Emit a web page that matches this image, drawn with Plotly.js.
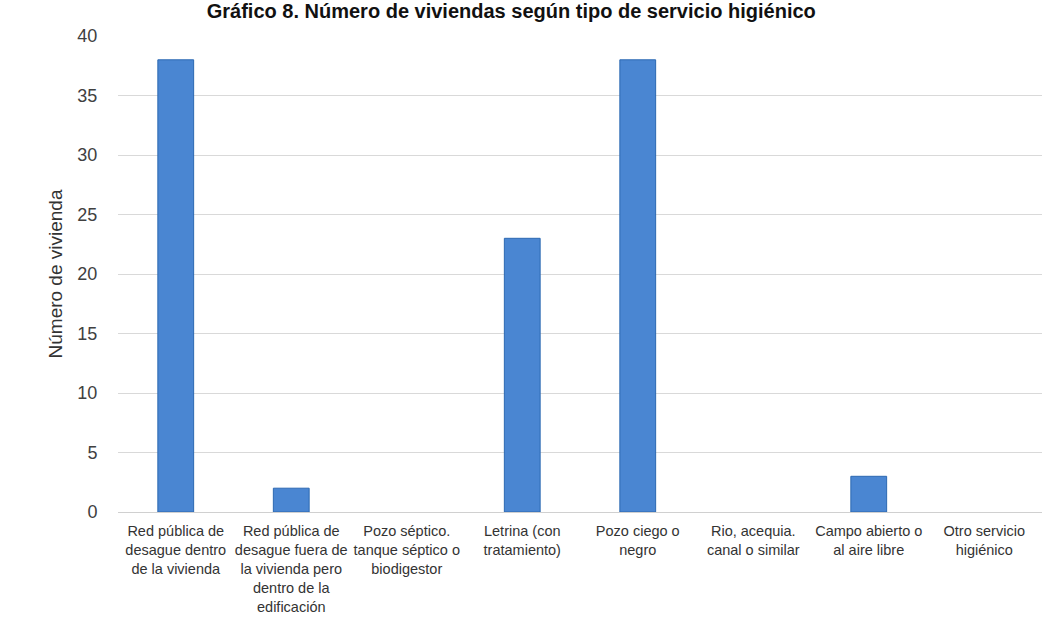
<!DOCTYPE html>
<html>
<head>
<meta charset="utf-8">
<script src="https://cdn.plot.ly/plotly-3.0.1.min.js"></script>
<style>html,body{margin:0;padding:0;background:#fff;}#chart{width:1052px;height:637px;}</style>
</head>
<body>
<div id="chart"></div>
<script>
const categories = [
  "Red pública de<br>desague dentro<br>de la vivienda",
  "Red pública de<br>desague fuera de<br>la vivienda pero<br>dentro de la<br>edificación",
  "Pozo séptico.<br>tanque séptico o<br>biodigestor",
  "Letrina (con<br>tratamiento)",
  "Pozo ciego o<br>negro",
  "Rio, acequia.<br>canal o similar",
  "Campo abierto o<br>al aire libre",
  "Otro servicio<br>higiénico"
];
const viviendas = [38, 2, 0, 23, 38, 0, 3, 0];
const yTicks = [0, 5, 10, 15, 20, 25, 30, 35, 40];
const chartTitle = "Gráfico 8. Número de viviendas según tipo de servicio higiénico";
const yTitle = "Número de vivienda";

const trace = {
  type: 'bar',
  x: categories,
  y: viviendas,
  width: 0.31,
  marker: {
    color: '#4a86d2',
    line: { color: '#2c68b2', width: viviendas.map(v => v > 0 ? 1 : 0) }
  },
  hoverinfo: 'x+y'
};

const layout = {
  width: 1052, height: 637,
  margin: { l: 118, r: 10, t: 36, b: 125 },
  paper_bgcolor: '#ffffff', plot_bgcolor: '#ffffff',
  font: { family: 'Liberation Sans, Arial, sans-serif', color: '#333333' },
  title: {
    text: '<b>' + chartTitle + '</b>',
    font: { size: 20, color: '#111111', family: 'Liberation Sans, Arial, sans-serif' },
    x: 0.486, xref: 'container', xanchor: 'center',
    y: 0.982, yref: 'container', yanchor: 'middle', pad: { t: 0, b: 0 }
  },
  xaxis: {
    type: 'category',
    tickfont: { size: 14.5, color: '#333333' },
    showgrid: false, zeroline: false, showline: false,
    ticks: 'outside', ticklen: 6, tickcolor: 'rgba(0,0,0,0)',
    fixedrange: true
  },
  yaxis: {
    range: [0, 40],
    tickvals: yTicks,
    tickfont: { size: 18, color: '#404040' },
    ticks: 'outside', ticklen: 16, tickcolor: 'rgba(0,0,0,0)',
    showgrid: true, gridcolor: '#d9d9d9', gridwidth: 1,
    zeroline: true, zerolinecolor: '#d0d0d0', zerolinewidth: 1,
    showline: false,
    title: { text: yTitle, font: { size: 19, color: '#333333' }, standoff: 9 },
    fixedrange: true
  },
  showlegend: false,
  bargap: 0.69
};

Plotly.newPlot('chart', [trace], layout, { displayModeBar: false, staticPlot: true });
</script>
</body>
</html>
